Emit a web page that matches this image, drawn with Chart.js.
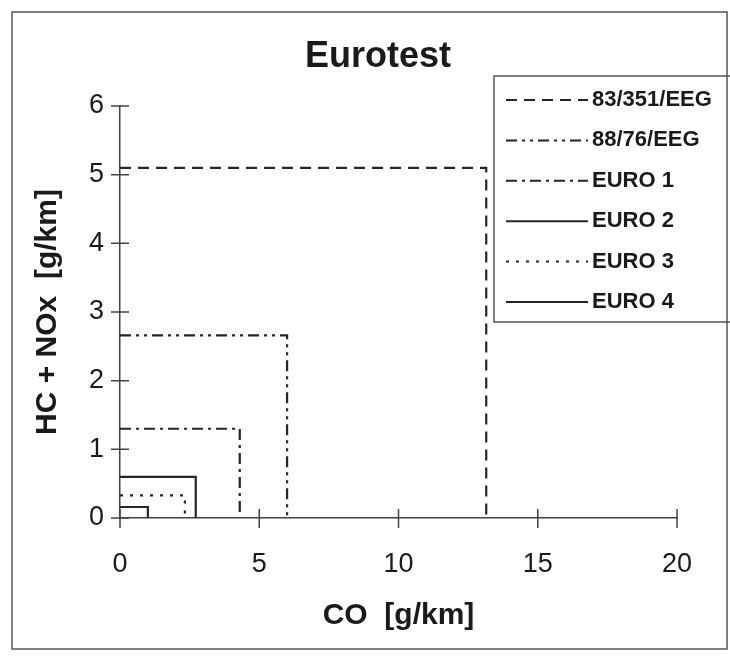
<!DOCTYPE html>
<html>
<head>
<meta charset="utf-8">
<title>Eurotest</title>
<script src="https://cdn.jsdelivr.net/npm/chart.js@4.4.0/dist/chart.umd.min.js"></script>
<style>
  html, body { margin: 0; padding: 0; background: #fff; }
  #wrap { width: 730px; height: 658px; }
</style>
</head>
<body>
<div id="wrap"><canvas id="eurotest" width="730" height="658"></canvas></div>
<script>
// emission limits (CO vs HC+NOx, g/km)
var standards = ['83/351/EEG', '88/76/EEG', 'EURO 1', 'EURO 2', 'EURO 3', 'EURO 4'];
var coLimits = [13.15, 6.0, 4.3, 2.72, 2.33, 1.0];
var hcNoxLimits = [5.1, 2.66, 1.3, 0.6, 0.33, 0.16];
var xTicks = [0, 5, 10, 15, 20];
var yTicks = [0, 1, 2, 3, 4, 5, 6];
var chartTitle = 'Eurotest';

var dashes = [[11, 7], [11, 5, 3, 5, 3, 5], [11, 5, 3, 5], [], [3, 7], []];
var ink = '#262626';
var fam = '"Liberation Sans", Arial, sans-serif';

var datasets = [];
for (var i = 0; i < standards.length; i++) {
  datasets.push({
    label: standards[i],
    data: [
      {x: 0, y: hcNoxLimits[i]},
      {x: coLimits[i], y: hcNoxLimits[i]},
      {x: coLimits[i], y: 0}
    ],
    showLine: true,
    borderColor: ink,
    borderWidth: 2.2,
    borderDash: dashes[i],
    pointRadius: 0,
    tension: 0,
    fill: false
  });
}

// outer frame + title
var framePlugin = {
  id: 'frame',
  beforeDraw: function(chart) {
    var ctx = chart.ctx;
    ctx.save();
    ctx.fillStyle = '#fff';
    ctx.fillRect(0, 0, chart.width, chart.height);
    ctx.strokeStyle = '#555';
    ctx.lineWidth = 1.5;
    ctx.strokeRect(12, 12, 715, 637);
    ctx.fillStyle = '#1a1a1a';
    ctx.font = 'bold 36px ' + fam;
    ctx.textAlign = 'center';
    ctx.textBaseline = 'middle';
    ctx.fillText(chartTitle, 378, 57);
    ctx.restore();
  }
};

// tick marks that cross the axes
var crossTicks = {
  id: 'crossTicks',
  afterDraw: function(chart) {
    var ctx = chart.ctx, xs = chart.scales.x, ys = chart.scales.y;
    var area = chart.chartArea;
    ctx.save();
    ctx.strokeStyle = '#444';
    ctx.lineWidth = 1.5;
    ctx.beginPath();
    xTicks.forEach(function(v) {
      var px = xs.getPixelForValue(v);
      ctx.moveTo(px, area.bottom - 9);
      ctx.lineTo(px, area.bottom + 10);
    });
    yTicks.forEach(function(v) {
      var py = ys.getPixelForValue(v);
      ctx.moveTo(area.left - 9, py);
      ctx.lineTo(area.left + 9, py);
    });
    ctx.moveTo(area.left, area.bottom);
    ctx.lineTo(area.left, area.bottom + 10);
    ctx.stroke();
    ctx.restore();
  }
};

// boxed legend on the right
var boxLegend = {
  id: 'boxLegend',
  afterDraw: function(chart) {
    var ctx = chart.ctx;
    var bx = 494, by = 76, bw = 250, bh = 246;
    ctx.save();
    ctx.strokeStyle = '#555';
    ctx.lineWidth = 1.5;
    ctx.strokeRect(bx, by, bw, bh);
    ctx.font = 'bold 22px ' + fam;
    ctx.textBaseline = 'middle';
    ctx.fillStyle = '#1a1a1a';
    chart.data.datasets.forEach(function(ds, i) {
      var y = 100 + i * 40.4;
      ctx.strokeStyle = ink;
      ctx.lineWidth = 2;
      ctx.setLineDash(ds.borderDash);
      ctx.beginPath();
      ctx.moveTo(506, y);
      ctx.lineTo(588, y);
      ctx.stroke();
      ctx.setLineDash([]);
      ctx.fillText(ds.label, 592, y);
    });
    ctx.restore();
  }
};

var config = {
  type: 'scatter',
  data: { datasets: datasets },
  options: {
    responsive: false,
    animation: false,
    layout: { padding: { top: 106, left: 0, right: 53, bottom: 0 } },
    plugins: {
      legend: { display: false },
      tooltip: { enabled: false },
      title: { display: false }
    },
    scales: {
      x: {
        type: 'linear',
        min: 0,
        max: 20,
        afterBuildTicks: function(s) { s.ticks = xTicks.map(function(v) { return {value: v}; }); },
        afterFit: function(s) { s.height = 140; },
        grid: { display: false, drawTicks: false },
        border: { display: true, color: '#444', width: 1.5 },
        ticks: {
          padding: 30,
          color: '#1a1a1a',
          font: { family: fam, size: 27 }
        },
        title: {
          display: true,
          text: 'CO  [g/km]',
          color: '#1a1a1a',
          font: { family: fam, size: 30, weight: 'bold' },
          padding: { top: 0, bottom: 24 }
        }
      },
      y: {
        type: 'linear',
        min: 0,
        max: 6,
        afterBuildTicks: function(s) { s.ticks = yTicks.map(function(v) { return {value: v}; }); },
        afterFit: function(s) { s.width = 120; },
        grid: { display: false, drawTicks: false },
        border: { display: true, color: '#444', width: 1.5 },
        ticks: {
          padding: 16,
          color: '#1a1a1a',
          font: { family: fam, size: 27 }
        },
        title: {
          display: true,
          text: 'HC + NOx  [g/km]',
          color: '#1a1a1a',
          font: { family: fam, size: 30, weight: 'bold' },
          padding: { top: 30, bottom: 0 }
        }
      }
    }
  },
  plugins: [framePlugin, crossTicks, boxLegend]
};

var ctx = document.getElementById('eurotest').getContext('2d');
window.eurotest = new Chart(ctx, config);
</script>
</body>
</html>
